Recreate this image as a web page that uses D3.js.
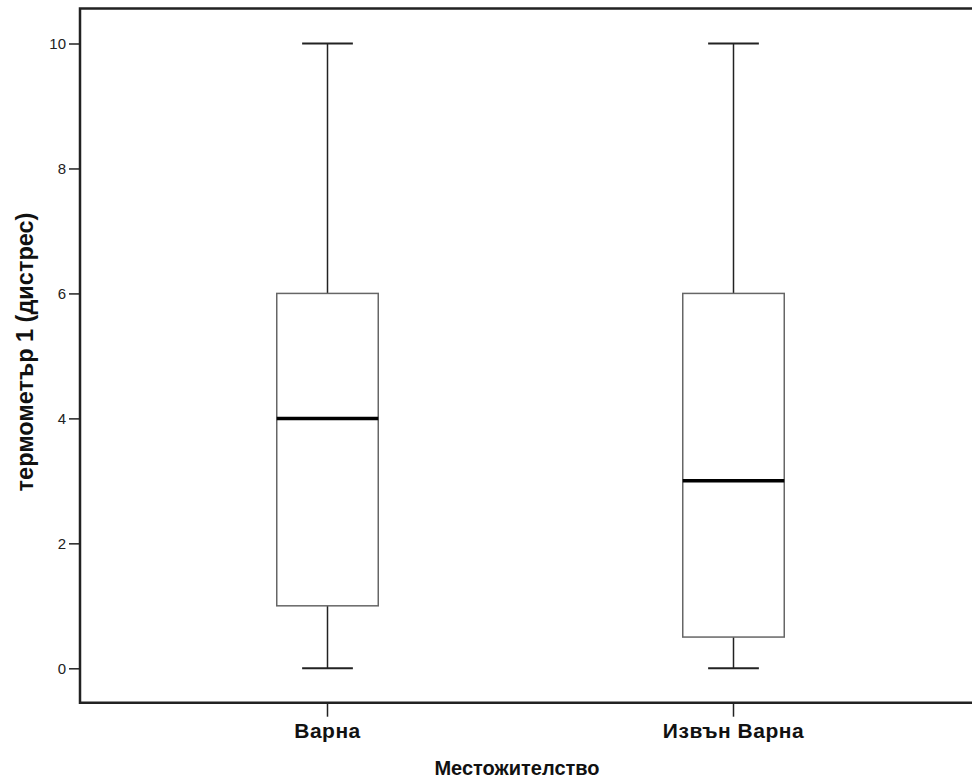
<!DOCTYPE html>
<html lang="bg">
<head>
  <meta charset="UTF-8" />
  <title>Boxplot</title>
  <style>
    body { margin: 0; background: #fff; }
    svg { display: block; font-family: "Liberation Sans", Arial, sans-serif; }
  </style>
</head>
<body>
  <svg id="chart" width="972" height="783"></svg>

  <script src="https://d3js.org/d3.v7.min.js"></script>
  <script>
    // data
    const categories = ["Варна", "Извън Варна"];
    const mins    = [0, 0];
    const q1s     = [1, 0.5];
    const medians = [4, 3];
    const q3s     = [6, 6];
    const maxs    = [10, 10];
    const yTicks  = [0, 2, 4, 6, 8, 10];

    const svg = d3.select("#chart");
    const mLeft = 80, mTop = 8.5, mBottom = 702.7, mRight = 972;

    const x = d3.scaleBand().domain(categories).range([124.5, 936.5]);
    const y = d3.scaleLinear().domain([0, 10]).range([668.3, 43.5]);
    const boxW = x.bandwidth() * 0.25;

    // frame: top, left, bottom
    svg.append("path")
      .attr("d", `M${mRight},${mTop}H${mLeft}V${mBottom}H${mRight}`)
      .attr("fill", "none")
      .attr("stroke", "#222")
      .attr("stroke-width", 2.5);

    // y axis
    const yAxis = svg.append("g")
      .attr("transform", `translate(${mLeft},0)`)
      .call(d3.axisLeft(y).tickValues(yTicks).tickSize(11).tickPadding(3));
    yAxis.select(".domain").remove();
    yAxis.selectAll(".tick line").attr("stroke", "#222").attr("stroke-width", 1.5);
    yAxis.selectAll(".tick text")
      .attr("fill", "#222")
      .style("font-size", "15px")
      .style("font-family", "'Liberation Sans', Arial, sans-serif");

    // x axis
    const xAxis = svg.append("g")
      .attr("transform", `translate(0,${mBottom})`)
      .call(d3.axisBottom(x).tickSize(14).tickPadding(6));
    xAxis.select(".domain").remove();
    xAxis.selectAll(".tick line").attr("stroke", "#222").attr("stroke-width", 1.5);
    xAxis.selectAll(".tick text")
      .attr("fill", "#111")
      .attr("dy", "0.71em")
      .style("font-size", "21px")
      .style("letter-spacing", "0.5px")
      .style("font-weight", "bold")
      .style("font-family", "'Liberation Sans', Arial, sans-serif");

    // boxes
    const boxes = svg.append("g").selectAll("g")
      .data(categories)
      .join("g")
      .attr("transform", d => `translate(${x(d) + x.bandwidth() / 2},0)`);

    boxes.append("line")
      .attr("y1", (d, i) => y(maxs[i]))
      .attr("y2", (d, i) => y(q3s[i]))
      .attr("stroke", "#222").attr("stroke-width", 1.5);
    boxes.append("line")
      .attr("y1", (d, i) => y(q1s[i]))
      .attr("y2", (d, i) => y(mins[i]))
      .attr("stroke", "#222").attr("stroke-width", 1.5);

    // whisker caps
    boxes.append("line")
      .attr("x1", -boxW / 4).attr("x2", boxW / 4)
      .attr("y1", (d, i) => y(maxs[i])).attr("y2", (d, i) => y(maxs[i]))
      .attr("stroke", "#222").attr("stroke-width", 2);
    boxes.append("line")
      .attr("x1", -boxW / 4).attr("x2", boxW / 4)
      .attr("y1", (d, i) => y(mins[i])).attr("y2", (d, i) => y(mins[i]))
      .attr("stroke", "#222").attr("stroke-width", 2);

    boxes.append("rect")
      .attr("x", -boxW / 2)
      .attr("width", boxW)
      .attr("y", (d, i) => y(q3s[i]))
      .attr("height", (d, i) => y(q1s[i]) - y(q3s[i]))
      .attr("fill", "#fff")
      .attr("stroke", "#666")
      .attr("stroke-width", 1.5);

    boxes.append("line")
      .attr("x1", -boxW / 2).attr("x2", boxW / 2)
      .attr("y1", (d, i) => y(medians[i])).attr("y2", (d, i) => y(medians[i]))
      .attr("stroke", "#000").attr("stroke-width", 3.5);

    // axis titles
    svg.append("text")
      .attr("x", 517)
      .attr("y", 775)
      .attr("text-anchor", "middle")
      .attr("fill", "#111")
      .style("font-size", "20px")
      .style("font-weight", "bold")
      .text("Местожителство");

    svg.append("text")
      .attr("transform", "translate(33,352) rotate(-90)")
      .attr("text-anchor", "middle")
      .attr("fill", "#111")
      .style("font-size", "23.5px")
      .style("font-weight", "bold")
      .text("термометър 1 (дистрес)");
  </script>
</body>
</html>
